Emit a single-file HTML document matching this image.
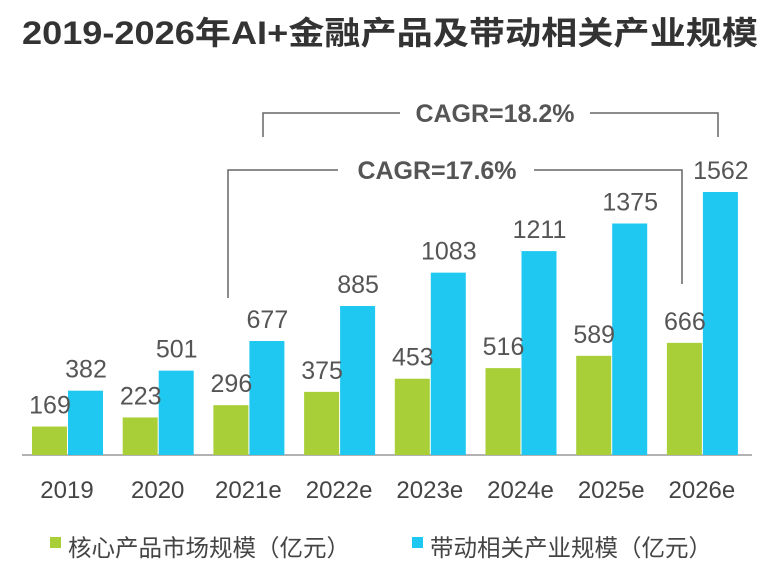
<!DOCTYPE html>
<html><head><meta charset="utf-8"><style>
body{margin:0;background:#fff;}
svg text{font-family:"Liberation Sans","Noto Sans CJK SC",sans-serif;}
</style></head><body>
<svg id="c" width="780" height="570">
<text x="22" y="44" textLength="736" lengthAdjust="spacingAndGlyphs" font-size="32" font-weight="bold" fill="#333">2019-2026年AI+金融产品及带动相关产业规模</text>
<line x1="22" y1="455" x2="752" y2="455" stroke="#999" stroke-width="1.5"/>
<g fill="none" stroke="#666" stroke-width="1.5">
<polyline points="263,137 263,113 400,113"/><polyline points="590,113 718,113 718,137"/></g>
<text x="495" y="122" text-anchor="middle" font-size="25" font-weight="bold" fill="#555">CAGR=18.2%</text>
<g fill="none" stroke="#666" stroke-width="1.5">
<polyline points="228,298 228,170 338,170"/><polyline points="534,170 682,170 682,284"/></g>
<text x="437" y="179" text-anchor="middle" font-size="25" font-weight="bold" fill="#555">CAGR=17.6%</text>
<rect x="50" y="537" width="11" height="11" fill="#a9cf38"/>
<text x="68" y="556" font-size="23.5" fill="#444">核心产品市场规模（亿元）</text>
<rect x="412" y="537" width="11" height="11" fill="#1ec8f0"/>
<text x="430" y="556" font-size="23.5" fill="#444">带动相关产业规模（亿元）</text>
<g id="bars"></g>
</svg>
<script>
const categories=["2019","2020","2021e","2022e","2023e","2024e","2025e","2026e"];
const coreValues=[169,223,296,375,453,516,589,666];
const relatedValues=[382,501,677,885,1083,1211,1375,1562];
const base=455, scale=263/1562;
const y=v=>base-v*scale;
const xc=i=>67+i*90.7;
const g=document.getElementById('bars');
const NS='http://www.w3.org/2000/svg';
function mk(t,a){const e=document.createElementNS(NS,t);for(const k in a)e.setAttribute(k,a[k]);g.appendChild(e);return e;}
categories.forEach((c,i)=>{
 const cx=xc(i);
 let r=mk('rect',{x:cx-35,y:y(coreValues[i]),width:35,height:base-y(coreValues[i]),fill:'#a9cf38'});
 
 
 let r2=mk('rect',{x:cx+1,y:y(relatedValues[i]),width:35,height:base-y(relatedValues[i]),fill:'#1ec8f0'});
 
 
 let t1=mk('text',{x:cx-17,y:y(coreValues[i])-13,'text-anchor':'middle','font-size':25,fill:'#555'});t1.textContent=coreValues[i];
 
 
 let t2=mk('text',{x:cx+19,y:y(relatedValues[i])-13,'text-anchor':'middle','font-size':25,fill:'#555'});t2.textContent=relatedValues[i];
 
 
 let t3=mk('text',{x:cx,y:498,'text-anchor':'middle','font-size':24,fill:'#444'});t3.textContent=c;
 
 
});
</script>
</body></html>
